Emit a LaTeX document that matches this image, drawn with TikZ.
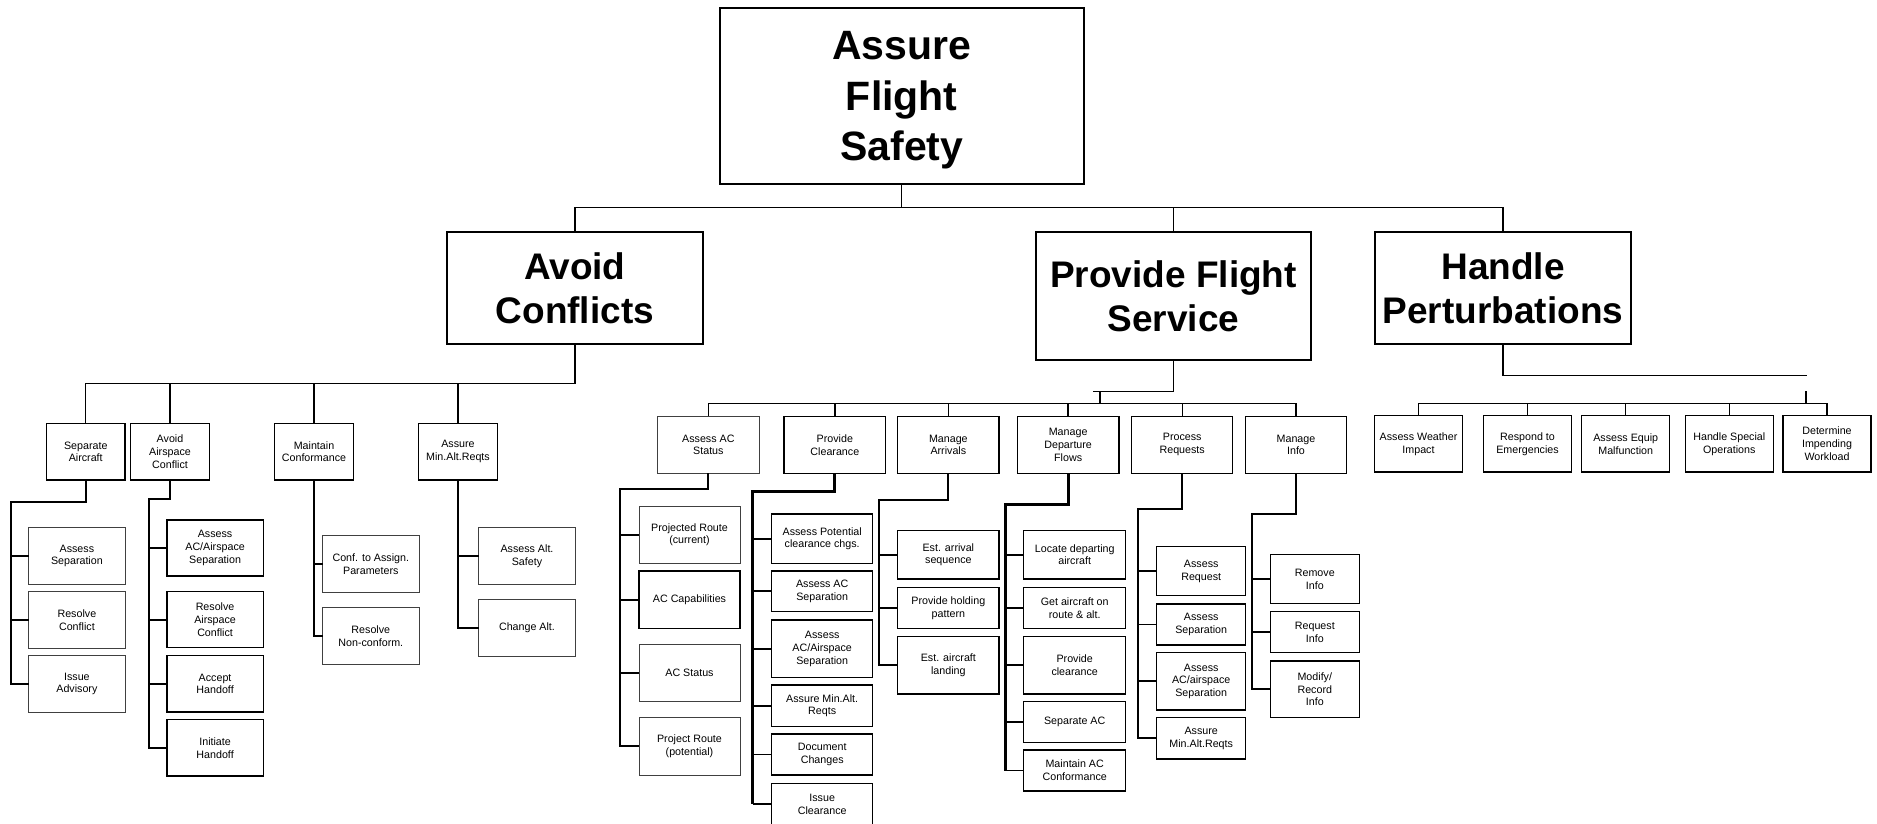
\documentclass[tikz,border=0pt]{standalone}
\usepackage{fontspec}
\setmainfont{Liberation Sans}
\newcommand\mybox[7]{\node[#6,minimum width={#4-#2},minimum height={#5-#3}] (#1) at ({(#2+#4)/2},{(#3+#5)/2}) {#7};}
\begin{document}
\begin{tikzpicture}[x=1pt,y=-1pt,
  every node/.style={inner sep=0pt,outer sep=0pt,rectangle,align=center},
  bigbox/.style={draw=black,line width=2pt,font=\bfseries\fontsize{37}{44}\selectfont},
  topbox/.style={draw=black,line width=2pt,font=\bfseries\fontsize{41}{50.5}\selectfont,text depth=-3.5pt},
  tkbox/.style={draw=black,line width=1.5pt,font=\fontsize{10.7}{12.8}\selectfont},
  tnbox/.style={draw=black!75,line width=0.8pt,font=\fontsize{10.7}{12.8}\selectfont},
  conn/.style={draw=black,line width=1.4pt},
  mconn/.style={draw=black,line width=1.9pt},
  hconn/.style={draw=black,line width=3pt}]
\useasboundingbox (0,0) rectangle (1877,823);
\clip (0,0) rectangle (1877,823);
\fill[white] (0,0) rectangle (1877,823);

% top levels
\mybox{afs}{719.5}{8}{1084}{184}{topbox}{Assure\\Flight\\Safety}
\mybox{ac}{446.7}{232}{703}{344}{bigbox}{Avoid\\Conflicts}
\mybox{pfs}{1036}{232}{1311}{360}{bigbox}{Provide Flight\\Service}
\mybox{hp}{1375}{232}{1631}{344}{bigbox}{Handle\\Perturbations}

% Avoid Conflicts level 3
\mybox{sa}{46.5}{423.5}{125}{480}{tkbox}{Separate\\Aircraft}
\mybox{aac}{130.7}{423.5}{209.3}{480}{tkbox}{Avoid\\Airspace\\Conflict}
\mybox{mc}{274.7}{423.5}{353.3}{480}{tkbox}{Maintain\\Conformance}
\mybox{am}{418.7}{423.5}{497.3}{480}{tkbox}{Assure\\Min.Alt.Reqts}

\mybox{sa1}{28.7}{527.7}{125.1}{584}{tnbox}{Assess\\Separation}
\mybox{sa2}{28.7}{591.7}{125.1}{648}{tnbox}{Resolve\\Conflict}
\mybox{sa3}{28.7}{655.7}{125.1}{712}{tnbox}{Issue\\Advisory}

\mybox{aac1}{166.9}{520}{263.3}{576}{tkbox}{Assess\\AC/Airspace\\Separation}
\mybox{aac2}{166.9}{591.7}{263.3}{647.7}{tkbox}{Resolve\\Airspace\\Conflict}
\mybox{aac3}{166.9}{655.7}{263.3}{712}{tkbox}{Accept\\Handoff}
\mybox{aac4}{166.9}{719.7}{263.3}{776}{tkbox}{Initiate\\Handoff}

\mybox{mc1}{322.6}{535.7}{419}{592}{tnbox}{Conf. to Assign.\\Parameters}
\mybox{mc2}{322.6}{607.7}{419}{664}{tnbox}{Resolve\\Non-conform.}

\mybox{am1}{478.8}{527.7}{575.2}{584}{tnbox}{Assess Alt.\\Safety}
\mybox{am2}{478.8}{599.7}{575.2}{656}{tnbox}{Change Alt.}

% Provide Flight Service level 3
\mybox{pa}{657.7}{416.3}{759}{473.3}{tnbox}{Assess AC\\Status}
\mybox{pc}{784}{416.3}{885.7}{473.3}{tkbox}{Provide\\Clearance}
\mybox{pm}{897.7}{416.3}{999}{473.3}{tkbox}{Manage\\Arrivals}
\mybox{pd}{1017.3}{416.3}{1119}{473.3}{tkbox}{Manage\\Departure\\Flows}
\mybox{pr}{1131.7}{416.3}{1232.7}{473.3}{tkbox}{Process\\Requests}
\mybox{pi}{1245.3}{416.3}{1346.7}{473.3}{tkbox}{Manage\\Info}

\mybox{pa1}{639}{506}{740}{563.3}{tnbox}{Projected Route\\(current)}
\mybox{pa2}{639}{571}{740}{628.7}{tkbox}{AC Capabilities}
\mybox{pa3}{639}{644.3}{740}{701.7}{tnbox}{AC Status}
\mybox{pa4}{639}{717.7}{740}{775}{tnbox}{Project Route\\(potential)}

\mybox{pc1}{771.7}{514}{872.7}{563.3}{tkbox}{Assess Potential\\clearance chgs.}
\mybox{pc2}{771.7}{571}{872.7}{611.7}{tkbox}{Assess AC\\Separation}
\mybox{pc3}{771.7}{620}{872.7}{677.3}{tkbox}{Assess\\AC/Airspace\\Separation}
\mybox{pc4}{771.7}{685}{872.7}{726.3}{tkbox}{Assure Min.Alt.\\Reqts}
\mybox{pc5}{771.7}{734}{872.7}{775}{tkbox}{Document\\Changes}
\mybox{pc6}{771.7}{783.3}{872.7}{825}{tkbox}{Issue\\Clearance}

\mybox{pm1}{897.7}{530.3}{999}{579}{tkbox}{Est. arrival\\sequence}
\mybox{pm2}{897.7}{587.3}{999}{628.7}{tkbox}{Provide holding\\pattern}
\mybox{pm3}{897.7}{636.7}{999}{694}{tkbox}{Est. aircraft\\landing}

\mybox{pd1}{1023.7}{530.3}{1125.7}{579}{tkbox}{Locate departing\\aircraft}
\mybox{pd2}{1023.7}{587.3}{1125.7}{628.7}{tkbox}{Get aircraft on\\route \& alt.}
\mybox{pd3}{1023.7}{636.7}{1125.7}{694}{tkbox}{Provide\\clearance}
\mybox{pd4}{1023.7}{701.7}{1125.7}{742.3}{tkbox}{Separate AC}
\mybox{pd5}{1023.7}{750}{1125.7}{791}{tkbox}{Maintain AC\\Conformance}

\mybox{pr1}{1156.7}{546.7}{1245.7}{595.7}{tkbox}{Assess\\Request}
\mybox{pr2}{1156.7}{604}{1245.7}{645}{tkbox}{Assess\\Separation}
\mybox{pr3}{1156.7}{652.7}{1245.7}{710}{tkbox}{Assess\\AC/airspace\\Separation}
\mybox{pr4}{1156.7}{717.7}{1245.7}{759}{tkbox}{Assure\\Min.Alt.Reqts}

\mybox{pi1}{1270.3}{554.7}{1359.3}{603.7}{tkbox}{Remove\\Info}
\mybox{pi2}{1270.3}{611.7}{1359.3}{652.7}{tkbox}{Request\\Info}
\mybox{pi3}{1270.3}{661}{1359.3}{717.7}{tkbox}{Modify/\\Record\\Info}

% Handle Perturbations level 3
\mybox{h1}{1374.7}{415.7}{1462.3}{472}{tkbox}{Assess Weather\\Impact}
\mybox{h2}{1483.7}{415.7}{1571.3}{472}{tkbox}{Respond to\\Emergencies}
\mybox{h3}{1581.7}{415.7}{1669.7}{472}{tkbox}{Assess Equip\\Malfunction}
\mybox{h4}{1685.3}{415.7}{1773.3}{472}{tkbox}{Handle Special\\Operations}
\mybox{h5}{1783}{415.7}{1871}{472}{tkbox}{Determine\\Impending\\Workload}

% ---------- connectors ----------
\coordinate (b1) at (0,207.7);
\draw[conn] (afs.south) -- (afs.south |- b1);
\draw[conn] (ac.north) |- (hp.north |- b1) -- (hp.north);
\draw[conn] (pfs.north) -- (pfs.north |- b1);

% Avoid Conflicts
\coordinate (b2) at (0,383.5);
\draw[conn] (ac.south) |- (sa.north |- b2) -- (sa.north);
\draw[conn] (aac.north) -- (aac.north |- b2);
\draw[conn] (mc.north) -- (mc.north |- b2);
\draw[conn] (am.north) -- (am.north |- b2);

\coordinate (s1) at (10.7,501.7);
\draw[mconn] (sa.south) |- (s1) -- (s1 |- sa3.west) -- (sa3.west);
\draw[mconn] (sa1.west) -- (sa1.west -| s1);
\draw[mconn] (sa2.west) -- (sa2.west -| s1);

\coordinate (s2) at (149.3,499);
\draw[mconn] (aac.south) |- (s2) -- (s2 |- aac4.west) -- (aac4.west);
\draw[mconn] (aac1.west) -- (aac1.west -| s2);
\draw[mconn] (aac2.west) -- (aac2.west -| s2);
\draw[mconn] (aac3.west) -- (aac3.west -| s2);

\draw[mconn] (mc.south) |- (mc2.west);
\draw[mconn] (mc1.west) -- (mc1.west -| mc.south);

\draw[mconn] (am.south) |- (am2.west);
\draw[mconn] (am1.west) -- (am1.west -| am.south);

% Provide Flight Service
\coordinate (pk1) at (1093.3,391.7);
\coordinate (pk2) at (1100,391.7);
\coordinate (pk3) at (1100,403.3);
\draw[conn] (pfs.south) |- (pk1);
\draw[conn] (pk2) -- (pk3);
\coordinate (b3) at (0,403.3);
\draw[conn] (pa.north) |- (pi.north |- b3) -- (pi.north);
\draw[conn] (pc.north) -- (pc.north |- b3);
\draw[conn] (pm.north) -- (pm.north |- b3);
\draw[conn] (pd.north) -- (pd.north |- b3);
\draw[conn] (pr.north) -- (pr.north |- b3);

\coordinate (s3) at (620,489.3);
\draw[mconn] (pa.south) |- (s3) -- (s3 |- pa4.west) -- (pa4.west);
\draw[mconn] (pa1.west) -- (pa1.west -| s3);
\draw[mconn] (pa2.west) -- (pa2.west -| s3);
\draw[mconn] (pa3.west) -- (pa3.west -| s3);

\coordinate (s4) at (752.7,491.7);
\draw[hconn] (pc.south) |- (s4) -- (s4 |- pc6.west);
\draw[mconn] (pc6.west) -- (pc6.west -| s4);
\draw[mconn] (pc1.west) -- (pc1.west -| s4);
\draw[mconn] (pc2.west) -- (pc2.west -| s4);
\draw[mconn] (pc3.west) -- (pc3.west -| s4);
\draw[mconn] (pc4.west) -- (pc4.west -| s4);
\draw[mconn] (pc5.west) -- (pc5.west -| s4);

\coordinate (s5) at (879,500);
\draw[mconn] (pm.south) |- (s5) -- (s5 |- pm3.west) -- (pm3.west);
\draw[mconn] (pm1.west) -- (pm1.west -| s5);
\draw[mconn] (pm2.west) -- (pm2.west -| s5);

\coordinate (s6) at (1005.3,504.3);
\draw[hconn] (pd.south) |- (s6) -- (s6 |- pd5.west);
\draw[mconn] (pd5.west) -- (pd5.west -| s6);
\draw[mconn] (pd1.west) -- (pd1.west -| s6);
\draw[mconn] (pd2.west) -- (pd2.west -| s6);
\draw[mconn] (pd3.west) -- (pd3.west -| s6);
\draw[mconn] (pd4.west) -- (pd4.west -| s6);

\coordinate (s7) at (1138.3,509);
\draw[mconn] (pr.south) |- (s7) -- (s7 |- pr4.west) -- (pr4.west);
\draw[mconn] (pr1.west) -- (pr1.west -| s7);
\draw[mconn] (pr2.west) -- (pr2.west -| s7);
\draw[mconn] (pr3.west) -- (pr3.west -| s7);

\coordinate (s8) at (1251.7,514.3);
\draw[mconn] (pi.south) |- (s8) -- (s8 |- pi3.west) -- (pi3.west);
\draw[mconn] (pi1.west) -- (pi1.west -| s8);
\draw[mconn] (pi2.west) -- (pi2.west -| s8);

% Handle Perturbations
\coordinate (hg1) at (1807.3,375.7);
\coordinate (hg2) at (1805.7,391);
\coordinate (hg3) at (1805.7,403.7);
\draw[conn] (hp.south) |- (hg1);
\draw[mconn] (hg2) -- (hg3);
\coordinate (b4) at (0,403.7);
\draw[conn] (h1.north) |- (h5.north |- b4) -- (h5.north);
\draw[conn] (h2.north) -- (h2.north |- b4);
\draw[conn] (h3.north) -- (h3.north |- b4);
\draw[conn] (h4.north) -- (h4.north |- b4);
\end{tikzpicture}
\end{document}
